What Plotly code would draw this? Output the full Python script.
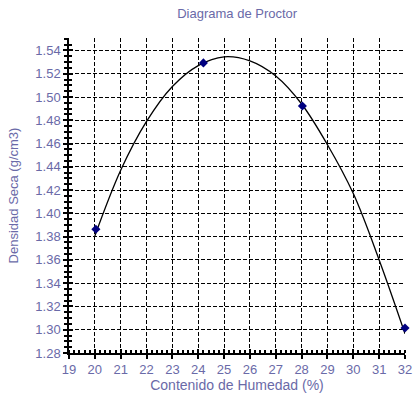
import plotly.graph_objects as go

# Measured points
humedad = [20.04, 24.2, 28.03, 32.0]
densidad = [1.3864, 1.5293, 1.4923, 1.3015]

# Trend curve
curva_x = [20.0, 21.0, 22.0, 23.0, 24.0, 25.0, 26.0, 27.0, 28.0, 29.0, 30.0, 31.0, 32.0]
curva_y = [1.3806, 1.437, 1.479, 1.509, 1.527, 1.5345, 1.5310, 1.5180, 1.4940, 1.4590, 1.4170, 1.3600, 1.2966]

titulo = "Diagrama de Proctor"
titulo_x = "Contenido de Humedad (%)"
titulo_y = "Densidad Seca (g/cm3)"

txt = "#6a6aa8"
font = "Liberation Sans, Arial, sans-serif"

fig = go.Figure()
fig.add_trace(go.Scatter(x=curva_x, y=curva_y, mode="lines",
                         line=dict(color="black", width=1.3, shape="spline", smoothing=1.0),
                         hoverinfo="skip", showlegend=False))
fig.add_trace(go.Scatter(x=humedad, y=densidad, mode="markers",
                         marker=dict(symbol="diamond", size=7, color="#00007f"),
                         cliponaxis=False, showlegend=False))
# invisible trace to anchor overlay axes
fig.add_trace(go.Scatter(x=[19], y=[1.28], xaxis="x2", yaxis="y2", mode="markers",
                         marker=dict(opacity=0), hoverinfo="skip", showlegend=False))

xr = [19, 32]
yr = [1.28, 1.5507]

fig.update_layout(
    width=414, height=398,
    margin=dict(l=69, r=9, t=38, b=45),
    paper_bgcolor="white", plot_bgcolor="white",
    font=dict(family=font, color=txt, size=13),
    title=dict(text=titulo, x=0.573, xanchor="center", y=0.965, yanchor="middle",
               font=dict(size=13, color=txt)),
    xaxis=dict(range=xr, dtick=1, tick0=19, showgrid=True, gridcolor="black",
               griddash="4px,2px", gridwidth=1.3, zeroline=False, automargin=False,
               showline=True, linecolor="black", linewidth=1.5,
               ticks="outside", ticklen=4, tickcolor="black", tickwidth=1.5,
               minor=dict(dtick=0.2, ticks="inside", ticklen=3, tickcolor="black", showgrid=False),
               title=dict(text=titulo_x, font=dict(size=14, color=txt), standoff=4),
               tickfont=dict(size=13, color=txt)),
    yaxis=dict(range=yr, dtick=0.02, tick0=1.28, tickformat=".2f", showgrid=True,
               gridcolor="black", griddash="4px,2px", gridwidth=1.3, zeroline=False,
               automargin=False,
               showline=True, linecolor="black", linewidth=1.5,
               ticks="outside", ticklen=4, tickcolor="black", tickwidth=1.5,
               minor=dict(dtick=0.005, ticks="outside", ticklen=3, tickcolor="black", showgrid=False),
               title=dict(text=titulo_y, font=dict(size=13, color=txt), standoff=14),
               tickfont=dict(size=13, color=txt)),
    xaxis2=dict(range=xr, overlaying="x", anchor="y2", side="bottom", dtick=1, tick0=19,
                showgrid=False, zeroline=False, showticklabels=False, showline=False,
                ticks="inside", ticklen=4, tickcolor="black", tickwidth=1.5),
    yaxis2=dict(range=yr, overlaying="y", anchor="x2", side="left", dtick=0.02, tick0=1.28,
                showgrid=False, zeroline=False, showticklabels=False, showline=False,
                ticks="inside", ticklen=4, tickcolor="black", tickwidth=1.5,
                minor=dict(dtick=0.005, ticks="inside", ticklen=3, tickcolor="black", showgrid=False)),
)

fig.write_html("out.html", config={"displayModeBar": False},
               post_script="document.body.style.margin='0px';")
